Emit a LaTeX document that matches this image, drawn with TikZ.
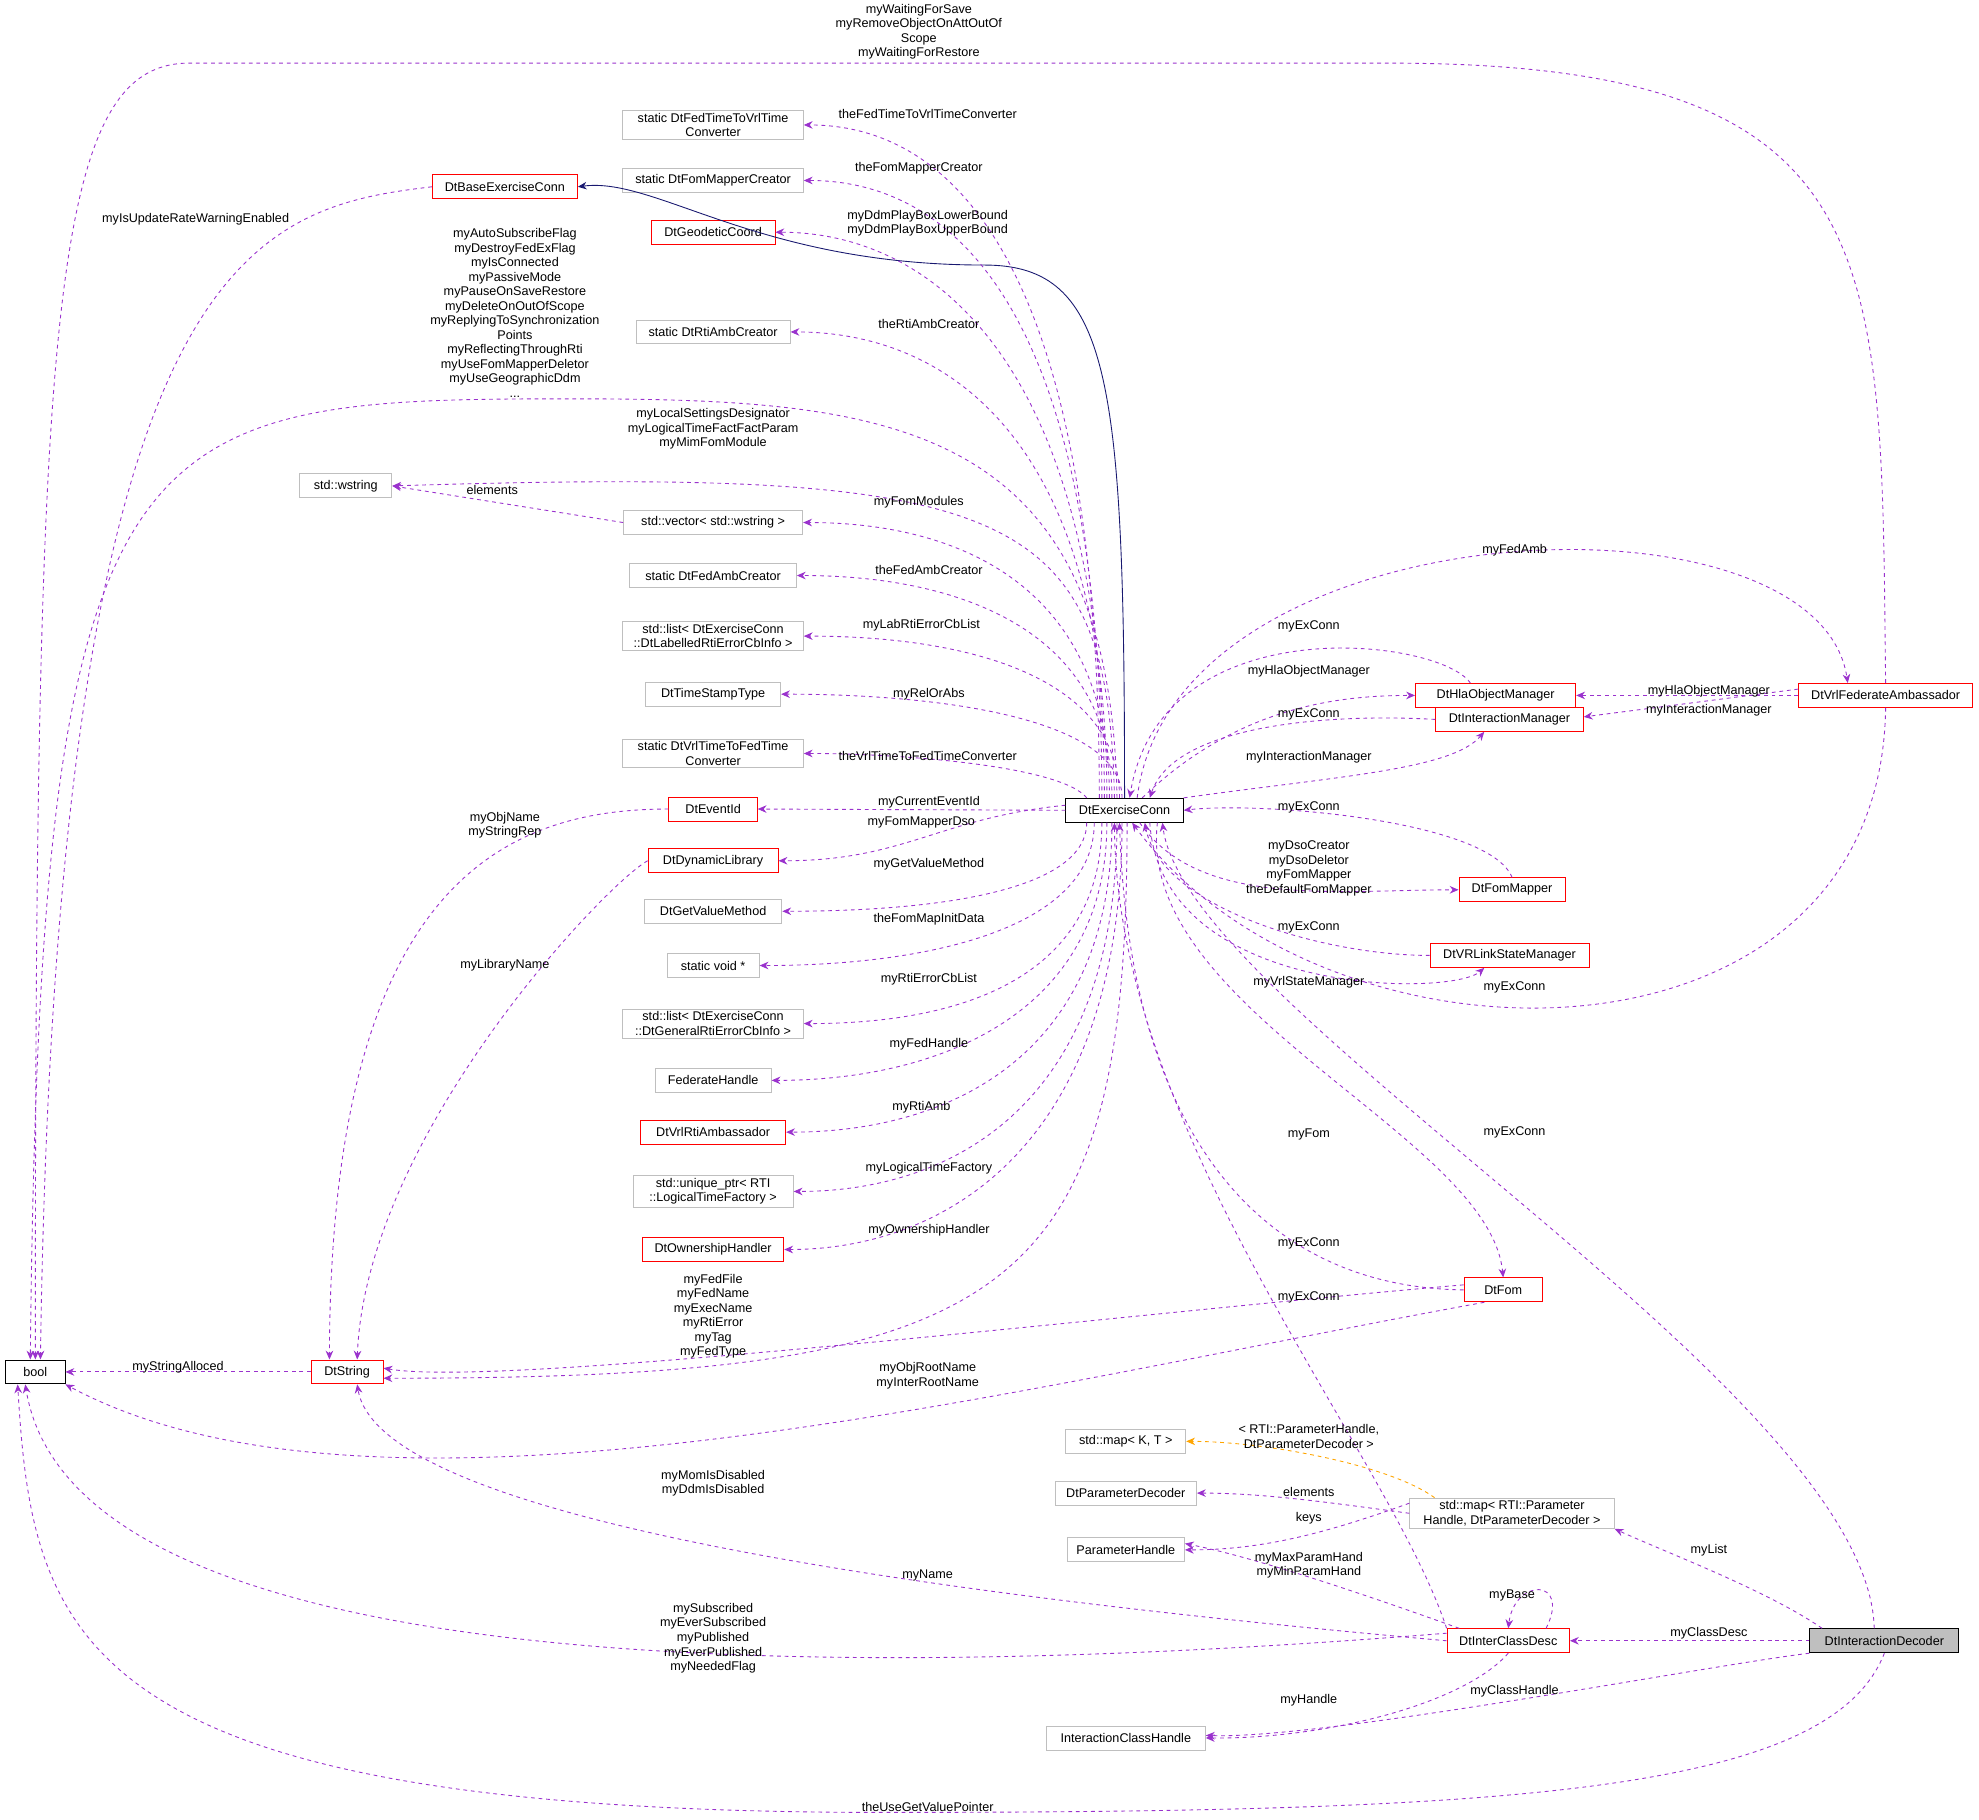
\documentclass[tikz,border=0pt]{standalone}
\usepackage{fontspec}
\setmainfont{Liberation Sans}
\usetikzlibrary{arrows.meta}
\definecolor{mem}{HTML}{9A32CD}
\definecolor{gbox}{HTML}{BFBFBF}
\definecolor{inh}{HTML}{191970}
\definecolor{tmpl}{HTML}{FFA500}
\begin{document}
\begin{tikzpicture}[x=1pt,y=-1pt,
  box/.style={draw,rectangle,inner sep=2pt,font=\fontsize{10}{11.5}\selectfont,align=center,line width=0.7pt,minimum height=19pt},
  gb/.style={box,draw=gbox},
  rb/.style={box,draw=red},
  kb/.style={box,draw=black},
  lbl/.style={font=\fontsize{10}{11.5}\selectfont,align=center,inner sep=0pt},
  m/.style={draw=mem,dashed,line width=0.7pt,-{Stealth[length=7pt,width=6pt]}},
  ih/.style={draw=inh,line width=0.7pt,-{Stealth[length=7pt,width=6pt]}},
  tp/.style={draw=tmpl,dashed,line width=0.7pt,-{Stealth[length=7pt,width=6pt]}}]
\useasboundingbox (0,0) rectangle (1568,1442);
% nodes
\node[kb,minimum width=47] (bool) at (28,1087) {bool};
\node[rb,minimum width=57] (str) at (275,1087) {DtString};
\node[rb,minimum width=115] (base) at (400,148) {DtBaseExerciseConn};
\node[gb,minimum width=73] (ws) at (274,385) {std::wstring};
\node[gb,minimum width=143] (n1) at (565,99) {static DtFedTimeToVrlTime\\Converter};
\node[gb,minimum width=143] (n2) at (565,143) {static DtFomMapperCreator};
\node[rb,minimum width=98] (n3) at (565,184) {DtGeodeticCoord};
\node[gb,minimum width=122] (n4) at (565,263) {static DtRtiAmbCreator};
\node[gb,minimum width=142] (vec) at (565,414) {std::vector< std::wstring >};
\node[gb,minimum width=132] (n6) at (565,456) {static DtFedAmbCreator};
\node[gb,minimum width=143] (n7) at (565,504) {std::list< DtExerciseConn\\::DtLabelledRtiErrorCbInfo >};
\node[gb,minimum width=107] (n8) at (565,550) {DtTimeStampType};
\node[gb,minimum width=143] (n9) at (565,597) {static DtVrlTimeToFedTime\\Converter};
\node[rb,minimum width=70] (eid) at (565,641) {DtEventId};
\node[rb,minimum width=103] (dyn) at (565,682) {DtDynamicLibrary};
\node[gb,minimum width=109] (n12) at (565,722) {DtGetValueMethod};
\node[gb,minimum width=73] (n13) at (565,765) {static void *};
\node[gb,minimum width=143] (n14) at (565,811) {std::list< DtExerciseConn\\::DtGeneralRtiErrorCbInfo >};
\node[gb,minimum width=92] (n15) at (565,856) {FederateHandle};
\node[rb,minimum width=115] (n16) at (565,897) {DtVrlRtiAmbassador};
\node[gb,minimum width=127] (n17) at (565,944) {std::unique\_ptr< RTI\\::LogicalTimeFactory >};
\node[rb,minimum width=112] (n18) at (565,990) {DtOwnershipHandler};
\node[kb,minimum width=93] (ex) at (891,642) {DtExerciseConn};
\node[rb,minimum width=127] (hla) at (1185,551) {DtHlaObjectManager};
\node[rb,minimum width=117] (im) at (1196,570) {DtInteractionManager};
\node[rb,minimum width=138] (vfa) at (1494,551) {DtVrlFederateAmbassador};
\node[rb,minimum width=84] (fm) at (1198,705) {DtFomMapper};
\node[rb,minimum width=126] (vrl) at (1196,757) {DtVRLinkStateManager};
\node[rb,minimum width=62] (fom) at (1191,1022) {DtFom};
\node[gb,minimum width=95] (kt) at (892,1142) {std::map< K, T >};
\node[gb,minimum width=112] (pd) at (892,1183) {DtParameterDecoder};
\node[gb,minimum width=93] (ph) at (892,1228) {ParameterHandle};
\node[gb,minimum width=126] (ich) at (892,1377) {InteractionClassHandle};
\node[gb,minimum width=162] (rmap) at (1198,1199) {std::map< RTI::Parameter\\Handle, DtParameterDecoder >};
\node[rb,minimum width=97] (icd) at (1195,1300) {DtInterClassDesc};
\node[kb,fill=gbox,minimum width=118] (idec) at (1493,1300) {DtInteractionDecoder};
\coordinate (k1) at (450,316);
\coordinate (k2) at (700,1436);
\coordinate (k3) at (1100,50);
% edges
\draw[m] (vfa.north) .. controls (1490,200) and (1500,50) .. (k3) -- (150,50) .. controls (40,50) and (28,250) .. (bool.north);
\draw[m] (base.west) .. controls (200,165) and (45,200) .. ([xshift=4]bool.north);
\draw[ih] (ex.north) .. controls (891,300) and (880,210) .. (780,210) .. controls (600,210) and (520,140) .. (base.east);
\draw[m] ([xshift=-6]ex.north) .. controls (880,330) and (700,316) .. (k1) .. controls (100,316) and (32,330) .. ([xshift=-4]bool.north);
\draw[m] ([xshift=-8]ex.north) .. controls (878,400) and (800,370) .. (ws.east);
\draw[m] (vec.west) -- (ws.east);
\draw[m] ([xshift=-20]ex.north) .. controls +(0,-400) and +(130,0) .. (n1.east);
\draw[m] ([xshift=-18]ex.north) .. controls +(0,-367) and +(130,0) .. (n2.east);
\draw[m] ([xshift=-16]ex.north) .. controls +(0,-336) and +(130,0) .. (n3.east);
\draw[m] ([xshift=-14]ex.north) .. controls +(0,-277) and +(130,0) .. (n4.east);
\draw[m] ([xshift=-12]ex.north) .. controls +(0,-163) and +(130,0) .. (vec.east);
\draw[m] ([xshift=-10]ex.north) .. controls +(0,-132) and +(130,0) .. (n6.east);
\draw[m] ([xshift=-4]ex.north) .. controls +(0,-96) and +(130,0) .. (n7.east);
\draw[m] ([xshift=-2]ex.north) .. controls +(0,-62) and +(130,0) .. (n8.east);
\draw[m] ([xshift=-30]ex.north) .. controls +(-20,-25) and +(80,0) .. (n9.east);
\draw[m] (ex.west) -- (eid.east);
\draw[m] ([yshift=4]ex.west) .. controls +(-100,10) and +(100,0) .. (dyn.east);
\draw[m] ([xshift=-30]ex.south) .. controls +(0,52) and +(130,0) .. (n12.east);
\draw[m] ([xshift=-24]ex.south) .. controls +(0,85) and +(130,0) .. (n13.east);
\draw[m] ([xshift=-18]ex.south) .. controls +(0,120) and +(130,0) .. (n14.east);
\draw[m] ([xshift=-14]ex.south) .. controls +(0,153) and +(130,0) .. (n15.east);
\draw[m] ([xshift=-10]ex.south) .. controls +(0,184) and +(130,0) .. (n16.east);
\draw[m] ([xshift=-6]ex.south) .. controls +(0,219) and +(130,0) .. (n17.east);
\draw[m] ([xshift=-2]ex.south) .. controls +(0,253) and +(130,0) .. (n18.east);
\draw[m] ([xshift=2]ex.south) .. controls +(0,380) and +(500,0) .. ([yshift=-5]str.east);
\draw[m] (eid.west) .. controls (400,641) and (262,700) .. ([xshift=-14]str.north);
\draw[m] (dyn.west) .. controls (480,700) and (290,900) .. ([xshift=8]str.north);
\draw[m] (str.west) -- (bool.east);
% right side
\draw[m] ([xshift=10]ex.north) .. controls (930,400) and (1440,380) .. ([xshift=-30]vfa.north);
\draw[m] (vfa.south) .. controls (1490,860) and (1050,860) .. ([xshift=6]ex.south);
\draw[m] ([xshift=-20]hla.north) .. controls (1140,505) and (920,480) .. ([xshift=4]ex.north);
\draw[m] ([xshift=14]ex.north) .. controls (980,560) and (1060,551) .. (hla.west);
\draw[m] (im.west) .. controls (1050,565) and (930,575) .. ([xshift=20]ex.north);
\draw[m] (ex.north east) .. controls (1060,615) and (1150,610) .. ([xshift=-20]im.south);
\draw[m] (fm.north) .. controls (1180,650) and (1000,635) .. (ex.east);
\draw[m] ([xshift=12]ex.south) .. controls (950,720) and (1060,705) .. (fm.west);
\draw[m] (vrl.west) .. controls (1050,757) and (920,720) .. ([xshift=16]ex.south);
\draw[m] ([xshift=20]ex.south) .. controls (920,790) and (1150,790) .. ([xshift=-20]vrl.south);
\draw[m] (vfa.west) -- (hla.east);
\draw[m] ([yshift=5]vfa.west) -- ([yshift=2]im.east);
\draw[m] ([xshift=26]ex.south) .. controls (900,800) and (1180,900) .. (fom.north);
\draw[m] (fom.west) .. controls (1000,1020) and (895,900) .. ([xshift=-4]ex.south);
\draw[m] (icd.north west) .. controls (1100,1150) and (885,900) .. ([xshift=-8]ex.south);
\draw[m] ([xshift=-8]idec.north) .. controls (1480,1100) and (940,800) .. ([xshift=30]ex.south);
\draw[m] ([yshift=4]fom.west) .. controls (900,1040) and (400,1100) .. ([yshift=3]str.east);
\draw[m] ([xshift=-15]fom.south) .. controls (800,1100) and (300,1230) .. (bool.south east);
\draw[tp] ([xshift=20]rmap.north west) .. controls (1100,1160) and (1000,1142) .. (kt.east);
\draw[m] (rmap.west) .. controls (1050,1190) and (1000,1183) .. (pd.east);
\draw[m] ([yshift=8]rmap.west) .. controls (1050,1215) and (1000,1228) .. (ph.east);
\draw[m] ([xshift=10]icd.north west) .. controls (1100,1270) and (1000,1235) .. ([yshift=5]ph.east);
\draw[m] (icd.west) .. controls (700,1260) and (300,1200) .. ([xshift=8]str.south);
\draw[m] ([yshift=6]icd.west) .. controls (700,1330) and (60,1340) .. ([xshift=-8]bool.south);
\draw[m] ([xshift=30]icd.north) .. controls (1245,1250) and (1200,1250) .. (icd.north);
\draw[m] (icd.south) .. controls (1160,1350) and (1050,1378) .. (ich.east);
\draw[m] (idec.south west) .. controls (1350,1320) and (1050,1378) .. ([yshift=2]ich.east);
\draw[m] (idec.west) -- (icd.east);
\draw[m] ([xshift=10]idec.north west) .. controls (1400,1260) and (1320,1230) .. (rmap.south east);
\draw[m] (idec.south) .. controls (1450,1420) and (1200,1436) .. (k2) .. controls (60,1436) and (26,1300) .. ([xshift=-14]bool.south);
% labels
\node[lbl] (l1) at (728,25) {myWaitingForSave\\myRemoveObjectOnAttOutOf\\Scope\\myWaitingForRestore};
\node[lbl] (l2) at (155,174) {myIsUpdateRateWarningEnabled};
\node[lbl] (l3) at (408,248) {myAutoSubscribeFlag\\myDestroyFedExFlag\\myIsConnected\\myPassiveMode\\myPauseOnSaveRestore\\myDeleteOnOutOfScope\\myReplyingToSynchronization\\Points\\myReflectingThroughRti\\myUseFomMapperDeletor\\myUseGeographicDdm\\...};
\node[lbl] (l4) at (565,340) {myLocalSettingsDesignator\\myLogicalTimeFactFactParam\\myMimFomModule};
\node[lbl] (l5) at (390,388) {elements};
\node[lbl] (l6) at (735,90) {theFedTimeToVrlTimeConverter};
\node[lbl] (l7) at (728,133) {theFomMapperCreator};
\node[lbl] (l8) at (735,177) {myDdmPlayBoxLowerBound\\myDdmPlayBoxUpperBound};
\node[lbl] (l9) at (736,257) {theRtiAmbCreator};
\node[lbl] (l10) at (728,398) {myFomModules};
\node[lbl] (l11) at (736,452) {theFedAmbCreator};
\node[lbl] (l12) at (730,495) {myLabRtiErrorCbList};
\node[lbl] (l13) at (736,550) {myRelOrAbs};
\node[lbl] (l14) at (735,599) {theVrlTimeToFedTimeConverter};
\node[lbl] (l15) at (736,636) {myCurrentEventId};
\node[lbl] (l16) at (730,652) {myFomMapperDso};
\node[lbl] (l17) at (736,685) {myGetValueMethod};
\node[lbl] (l18) at (736,728) {theFomMapInitData};
\node[lbl] (l19) at (736,776) {myRtiErrorCbList};
\node[lbl] (l20) at (736,827) {myFedHandle};
\node[lbl] (l21) at (730,877) {myRtiAmb};
\node[lbl] (l22) at (736,926) {myLogicalTimeFactory};
\node[lbl] (l23) at (736,975) {myOwnershipHandler};
\node[lbl] (l24) at (565,1043) {myFedFile\\myFedName\\myExecName\\myRtiError\\myTag\\myFedType};
\node[lbl] (l25) at (400,654) {myObjName\\myStringRep};
\node[lbl] (l26) at (400,765) {myLibraryName};
\node[lbl] (l27) at (141,1083) {myStringAlloced};
\node[lbl] (l28) at (735,1090) {myObjRootName\\myInterRootName};
\node[lbl] (l29) at (565,1175) {myMomIsDisabled\\myDdmIsDisabled};
\node[lbl] (l30) at (1037,899) {myFom};
\node[lbl] (l31) at (1037,985) {myExConn};
\node[lbl] (l32) at (1037,1028) {myExConn};
\node[lbl] (l33) at (1200,897) {myExConn};
\node[lbl] (l34) at (1200,782) {myExConn};
\node[lbl] (l35) at (1200,436) {myFedAmb};
\node[lbl] (l36) at (1037,496) {myExConn};
\node[lbl] (l37) at (1037,532) {myHlaObjectManager};
\node[lbl] (l38) at (1037,566) {myExConn};
\node[lbl] (l39) at (1037,600) {myInteractionManager};
\node[lbl] (l40) at (1037,640) {myExConn};
\node[lbl] (l41) at (1037,688) {myDsoCreator\\myDsoDeletor\\myFomMapper\\theDefaultFomMapper};
\node[lbl] (l42) at (1037,735) {myExConn};
\node[lbl] (l43) at (1037,778) {myVrlStateManager};
\node[lbl] (l44) at (1354,548) {myHlaObjectManager};
\node[lbl] (l45) at (1354,563) {myInteractionManager};
\node[lbl] (l46) at (1037,1138) {< RTI::ParameterHandle,\\DtParameterDecoder >};
\node[lbl] (l47) at (1037,1182) {elements};
\node[lbl] (l48) at (1037,1203) {keys};
\node[lbl] (l49) at (1037,1240) {myMaxParamHand\\myMinParamHand};
\node[lbl] (l50) at (735,1248) {myName};
\node[lbl] (l51) at (565,1298) {mySubscribed\\myEverSubscribed\\myPublished\\myEverPublished\\myNeededFlag};
\node[lbl] (l52) at (1198,1264) {myBase};
\node[lbl] (l53) at (1037,1347) {myHandle};
\node[lbl] (l54) at (1200,1340) {myClassHandle};
\node[lbl] (l55) at (1354,1294) {myClassDesc};
\node[lbl] (l56) at (1354,1228) {myList};
\node[lbl] (l57) at (735,1432) {theUseGetValuePointer};
\end{tikzpicture}
\end{document}
